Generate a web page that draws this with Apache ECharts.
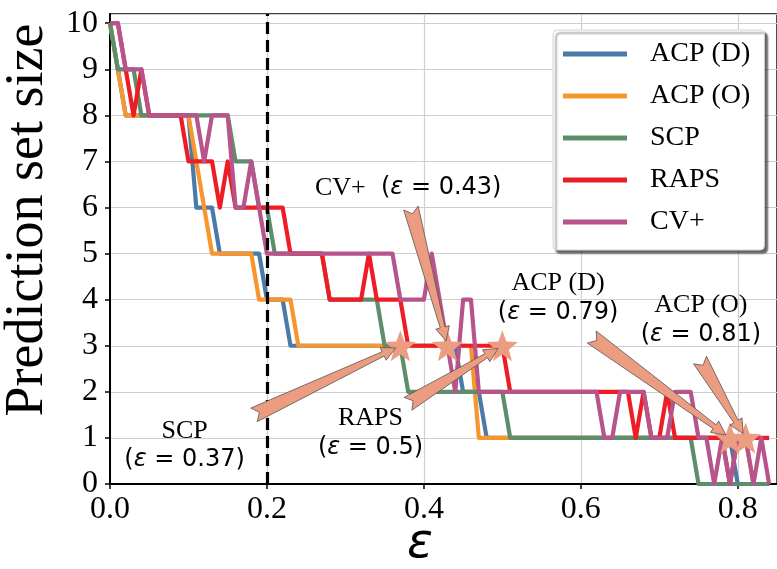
<!DOCTYPE html>
<html><head><meta charset="utf-8">
<script src="https://cdn.jsdelivr.net/npm/echarts@6/dist/echarts.min.js"></script>
<style>html,body{margin:0;padding:0;background:#fff}#c{width:777px;height:569px}</style>
</head><body><div id="c"></div>
<script>
// ---- data ----
const eps = [0.00,0.01,0.02,0.03,0.04,0.05,0.06,0.07,0.08,0.09,
  0.10,0.11,0.12,0.13,0.14,0.15,0.16,0.17,0.18,0.19,
  0.20,0.21,0.22,0.23,0.24,0.25,0.26,0.27,0.28,0.29,
  0.30,0.31,0.32,0.33,0.34,0.35,0.36,0.37,0.38,0.39,
  0.40,0.41,0.42,0.43,0.44,0.45,0.46,0.47,0.48,0.49,
  0.50,0.51,0.52,0.53,0.54,0.55,0.56,0.57,0.58,0.59,
  0.60,0.61,0.62,0.63,0.64,0.65,0.66,0.67,0.68,0.69,
  0.70,0.71,0.72,0.73,0.74,0.75,0.76,0.77,0.78,0.79,
  0.80,0.81,0.82,0.83,0.84];
const acpD = [10,9,8,8,8,8,8,8,8,8, 8,6,6,6,5,5,5,5,5,5, 4,4,4,3,3,3,3,3,3,3, 3,3,3,3,3,3,3,3,3,3,
  3,3,3,3,3,2,2,2,1,1, 1,1,1,1,1,1,1,1,1,1, 1,1,1,1,1,1,1,1,1,1, 1,1,1,1,1,1,1,1,1,1, 0,0,0,0,0];
const acpO = [10,9,8,8,8,8,8,8,8,8, 8,7,6,5,5,5,5,5,5,4, 4,4,4,4,3,3,3,3,3,3, 3,3,3,3,3,3,3,3,3,3,
  3,3,3,3,3,3,3,1,1,1, 1,1,1,1,1,1,1,1,1,1, 1,1,1,1,1,1,1,1,1,1, 1,1,1,1,1,1,1,1,1,1, 1,1,0,0,0];
const scp  = [10,9,9,9,8,8,8,8,8,8, 8,8,8,8,8,8,7,7,7,6, 6,5,5,5,5,5,5,5,4,4, 4,4,4,4,4,3,3,3,2,2,
  2,2,2,2,2,2,2,2,2,2, 2,1,1,1,1,1,1,1,1,1, 1,1,1,1,1,1,1,1,1,1, 1,1,1,1,1,0,0,0,0,0, 0,0,0,0,0];
const raps = [10,10,9,8,9,8,8,8,8,8, 7,7,7,7,6,7,6,6,6,6, 6,6,6,5,5,5,5,5,4,4, 4,4,4,5,4,4,4,4,3,3,
  3,3,3,3,3,3,3,3,3,3, 3,2,2,2,2,2,2,2,2,2, 2,2,2,2,2,2,2,1,2,1, 1,2,1,1,1,1,1,1,1,0, 1,1,1,1,1];
const cvp  = [10,10,9,9,9,8,8,8,8,8, 8,8,7,8,8,8,6,6,7,6, 5,5,5,5,5,5,5,5,5,5, 5,5,5,5,5,5,5,4,4,4,
  4,5,4,3,2,4,4,2,2,2, 2,2,2,2,2,2,2,2,2,2, 2,2,2,1,1,2,2,2,2,1, 1,1,2,2,2,1,1,0,1,0, 1,1,0,1,0];
const seriesNames = ['ACP (D)','ACP (O)','SCP','RAPS','CV+'];
const xTicks = [0.0,0.2,0.4,0.6,0.8];
const yTicks = [0,1,2,3,4,5,6,7,8,9,10];
const thresholdEps = 0.2;
// stars: [eps, size]
const starPts = [[0.37,3],[0.43,3],[0.50,3],[0.79,1],[0.81,1]];
// annotations
const annoTitle = ['SCP','RAPS','CV+','ACP (D)','ACP (O)'];
const annoEps   = ['0.37','0.5','0.43','0.79','0.81'];
const annoTwoLine = [1,1,0,1,1];
const annoPos   = [[0.095,0.82],[0.332,1.10],[0.380,6.42],[0.571,4.03],[0.753,3.55]];
// arrows: [tailEps, tailSize, headEps, headSize]
const arrowPts = [[0.1835,1.50,0.37,3],[0.3797,1.74,0.50,3],[0.3835,5.99,0.43,3],[0.6139,3.19,0.79,1],[0.7519,2.69,0.81,1]];

// ---- chart ----
const serif = "'Liberation Serif','Times New Roman',serif";
const sans = "'DejaVu Sans',sans-serif";
const colors = ['#4a7ba8','#f7962e','#5e8d6b','#ee1d25','#b6548b'];
const seriesVals = [acpD, acpO, scp, raps, cvp];

function starPath(){
  let p = '';
  for (let k=0;k<10;k++){
    const r = k%2===0 ? 1 : 0.42;
    const a = -Math.PI/2 + k*Math.PI/5;
    p += (k===0?'M':'L') + (r*Math.cos(a)).toFixed(4) + ',' + (r*Math.sin(a)).toFixed(4) + ' ';
  }
  return 'path://' + p + 'Z';
}

const chart = echarts.init(document.getElementById('c'), null, {renderer:'canvas'});

const lineSeries = seriesVals.map((vals, si) => ({
  name: seriesNames[si], type:'line', data: eps.map((e,i)=>[e, vals[i]]),
  showSymbol:false, symbol:'none', smooth:false, clip:true,
  lineStyle:{color:colors[si], width:4.2, join:'round'},
  itemStyle:{color:colors[si]}, z:2+si*0.01
}));
lineSeries[4].markLine = {
  silent:true, symbol:['none','none'], label:{show:false},
  lineStyle:{color:'#000', type:[12,6], width:3.2},
  data:[{xAxis:thresholdEps}], animation:false
};

const option = {
  animation:false,
  backgroundColor:'#fff',
  grid:{left:110, top:14, width:671.5, height:470, show:true, borderColor:'#000', borderWidth:1.5, backgroundColor:'transparent'},
  xAxis:{type:'value', min:0, max:0.85, interval:0.2,
    axisLine:{show:true, onZero:false, lineStyle:{color:'#000', width:2}},
    axisTick:{show:true, length:5, lineStyle:{color:'#000', width:1.5}},
    axisLabel:{fontFamily:serif, fontSize:32, color:'#000', margin:10, showMaxLabel:false,
      formatter:v=>{ const t = xTicks.find(x=>Math.abs(x-v)<1e-6); return t===undefined?'':t.toFixed(1);} },
    splitLine:{show:true, lineStyle:{color:'#cfcfcf', width:1.2}}},
  yAxis:{type:'value', min:0, max:10.2, interval:1,
    axisLine:{show:true, onZero:false, lineStyle:{color:'#000', width:2}},
    axisTick:{show:true, length:5, lineStyle:{color:'#000', width:1.5}},
    axisLabel:{fontFamily:serif, fontSize:32, color:'#000', margin:12, showMaxLabel:false,
      formatter:v=>{ const t = yTicks.find(x=>Math.abs(x-v)<1e-6); return t===undefined?'':String(t);} },
    splitLine:{show:true, lineStyle:{color:'#cfcfcf', width:1.2}}},
  legend:{orient:'vertical', left:553, top:30, itemWidth:64, itemHeight:5, itemGap:10, icon:'rect',
    padding:[8,14,12,10], backgroundColor:'#fff', borderColor:'#d6d6d6', borderWidth:1, borderRadius:4,
    shadowColor:'rgba(0,0,0,0.6)', shadowBlur:2, shadowOffsetX:3, shadowOffsetY:3,
    textStyle:{fontFamily:serif, fontSize:28, color:'#000', lineHeight:32, padding:[0,0,0,18]},
    data:seriesNames},
  graphic:[
    {type:'text', x:28, y:220, rotation:Math.PI/2, style:{text:'Prediction set size', font:"54px 'Liberation Serif'", fill:'#000', align:'center', verticalAlign:'middle'}},
    {type:'text', x:420, y:545, style:{text:'ε', font:"italic 48px 'DejaVu Sans'", fill:'#000', align:'center', verticalAlign:'middle'}}
  ],
  series: lineSeries.concat([
    {type:'scatter', name:'stars', data:starPts, symbol:starPath(), symbolSize:31,
      itemStyle:{color:'#ec9c80', opacity:1}, z:4, silent:true},
    {type:'custom', name:'arrows', data:arrowPts, encode:{x:[0,2], y:[1,3]}, z:5, clip:false, silent:true,
      renderItem:(params, api)=>{
        const t = api.coord([api.value(0), api.value(1)]);
        const h0 = api.coord([api.value(2), api.value(3)]);
        let dx = h0[0]-t[0], dy = h0[1]-t[1];
        const L = Math.hypot(dx,dy); dx/=L; dy/=L;
        const px = -dy, py = dx;
        const shrink = 5;
        const h = [h0[0]-dx*shrink, h0[1]-dy*shrink];
        const wt=7.5, notch=6, wn=2.4, wh=7, hl=14;
        const nb = [h[0]-dx*hl, h[1]-dy*hl];
        const pts = [
          [t[0]+px*wt, t[1]+py*wt],
          [t[0]+dx*notch, t[1]+dy*notch],
          [t[0]-px*wt, t[1]-py*wt],
          [nb[0]-px*wn, nb[1]-py*wn],
          [nb[0]-px*wh, nb[1]-py*wh],
          h,
          [nb[0]+px*wh, nb[1]+py*wh],
          [nb[0]+px*wn, nb[1]+py*wn]
        ];
        return {type:'polygon', shape:{points:pts}, style:{fill:'#ec9c80', stroke:'#555', lineWidth:0.8}};
      }},
    {type:'custom', name:'annotations', data:annoPos.map((p,i)=>[p[0],p[1],i]), encode:{x:0,y:1}, z:6, clip:false, silent:true,
      renderItem:(params, api)=>{
        const c = api.coord([api.value(0), api.value(1)]);
        const i = api.value(2);
        const rich = {
          s:{fontFamily:serif, fontSize:26, fill:'#000'},
          p:{fontFamily:sans, fontSize:24, fill:'#000'},
          e:{fontFamily:sans, fontSize:24, fontStyle:'italic', fill:'#000'}
        };
        const mathTxt = '{p|(}{e|ε}{p| = '+annoEps[i]+')}';
        if (annoTwoLine[i]) {
          return {type:'group', children:[
            {type:'text', x:c[0], y:c[1]-15, style:{text:'{s|'+annoTitle[i]+'}', rich, align:'center', verticalAlign:'middle'}},
            {type:'text', x:c[0], y:c[1]+14, style:{text:mathTxt, rich, align:'center', verticalAlign:'middle'}}
          ]};
        }
        return {type:'text', x:c[0], y:c[1], style:{text:'{s|'+annoTitle[i]+'}{p|  }'+mathTxt, rich, align:'center', verticalAlign:'middle'}};
      }}
  ])
};
chart.setOption(option);
</script></body></html>
